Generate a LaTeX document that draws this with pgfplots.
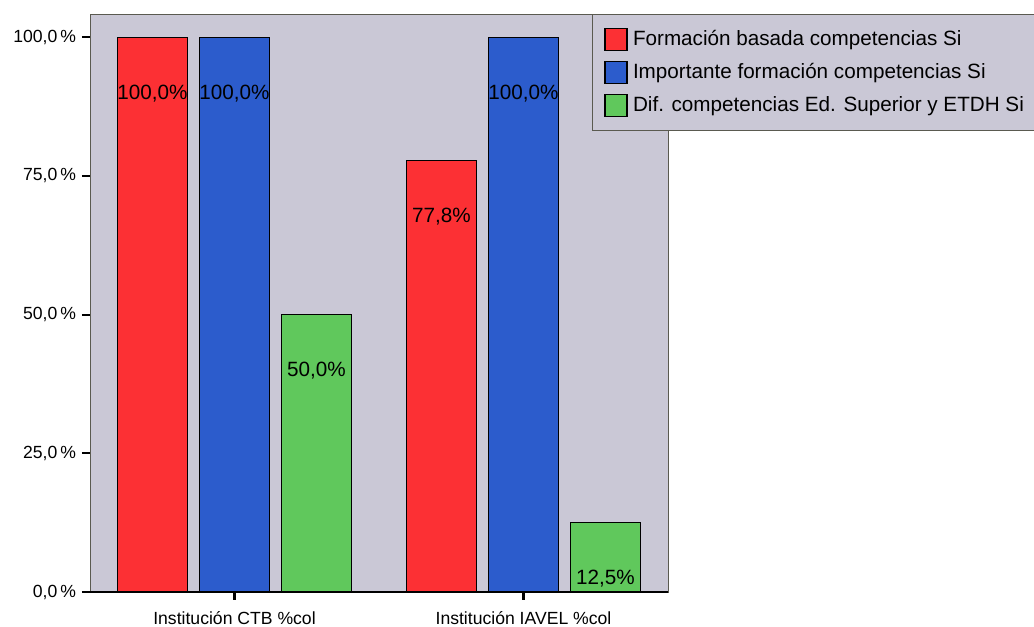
\documentclass[border=0pt]{standalone}
\usepackage{pgfplots}
\pgfplotsset{compat=1.18}
\usepackage{fontspec}
\setmainfont{Liberation Sans}

\definecolor{panel}{RGB}{202,200,214}
\definecolor{barred}{RGB}{252,48,52}
\definecolor{barblue}{RGB}{44,92,204}
\definecolor{bargreen}{RGB}{96,200,92}
\definecolor{framecol}{RGB}{90,90,80}

\begin{document}
\begin{tikzpicture}
\useasboundingbox (-67.5pt,-26.25pt) rectangle (708pt,444pt);
\begin{axis}[
  at={(0,0)}, anchor=south west,
  scale only axis,
  width=433.5pt, height=433.5pt,
  axis background/.style={fill=panel},
  axis line style={draw=framecol, line width=0.6pt},
  ybar=9pt, bar width=52.5pt,
  xmin=-0.5, xmax=1.5,
  ymin=0, ymax=104.2,
  xtick={0,1},
  xticklabels={Institución CTB \%col, Institución IAVEL \%col},
  ytick={0,25,50,75,100},
  yticklabels={{0,0\,\%}, {25,0\,\%}, {50,0\,\%}, {75,0\,\%}, {100,0\,\%}},
  /pgf/number format/assume math mode=true,
  tick label style={font=\fontsize{13.2pt}{15pt}\selectfont},
  tick align=outside,
  major tick length=6pt,
  tick style={draw=black, line width=1.6pt},
  xtick pos=bottom, ytick pos=left,
  yticklabel style={xshift=-1pt},
  xticklabel style={yshift=-5pt},
  enlarge x limits=false,
  nodes near coords={\pgfmathprintnumber[fixed,precision=1,zerofill,use comma,assume math mode=true]{\pgfplotspointmeta}\%},
  every node near coord/.append style={anchor=center, yshift=-42pt,
    font=\fontsize{15.5pt}{17pt}\selectfont, text=black},
  legend cell align=left,
  legend style={at={(rel axis cs:0.8685,1)}, anchor=north west,
    fill=panel, draw=framecol, line width=0.6pt,
    font=\fontsize{15.5pt}{17pt}\selectfont,
    inner xsep=9pt, inner ysep=10pt,
    row sep=7.5pt},
  legend image code/.code={%
    \path[draw=none, fill=none] (0pt,0pt) -- (19pt,0pt);
    \draw[#1, draw=black, line width=0.9pt] (0pt,-8.2pt) rectangle (16.5pt,8.2pt);},
  every axis plot/.append style={draw=black, line width=0.9pt},
  clip=false,
]
\addplot[fill=barred] coordinates {(0,100) (1,77.8)};
\addplot[fill=barblue] coordinates {(0,100) (1,100)};
\addplot[fill=bargreen] coordinates {(0,50) (1,12.5)};
\legend{Formación basada competencias Si, Importante formación competencias Si, Dif. competencias Ed. Superior y ETDH Si}
\draw[black, line width=1.6pt] (rel axis cs:0,0) -- (rel axis cs:1,0);
\end{axis}
\end{tikzpicture}
\end{document}
